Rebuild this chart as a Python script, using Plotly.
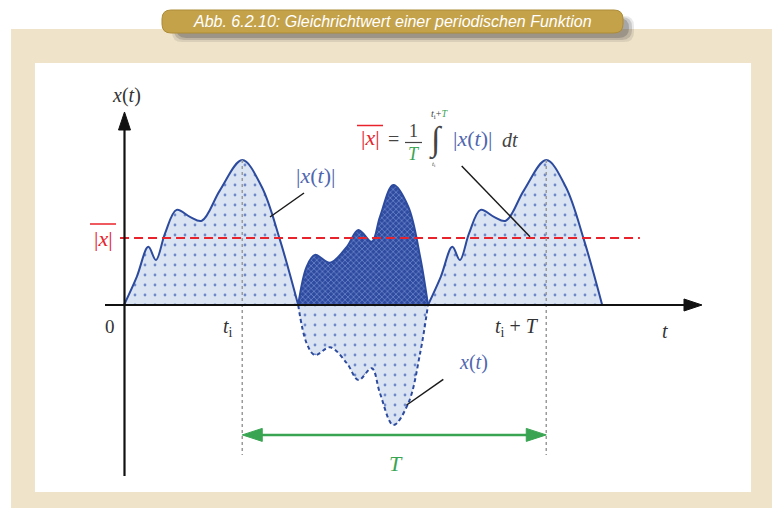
import plotly.graph_objects as go

W, H = 772, 508

# ---- signal data: one period of x(t), spline knots (t, x) ----
T = 10.0
t_pos = [0.0, 0.42, 0.80, 1.05, 1.35, 1.73, 2.17, 2.56, 3.16, 3.89, 4.53, 5.13, 5.73]
x_pos = [0.0, 0.94, 1.94, 1.50, 2.39, 3.17, 2.94, 2.81, 3.83, 4.83, 3.94, 2.17, 0.0]
t_neg = [5.73, 6.01, 6.28, 6.78, 7.33, 7.71, 8.15, 8.42, 8.86, 9.35, 9.74, 10.0]
x_neg = [0.0, -1.28, -1.67, -1.41, -1.94, -2.50, -2.11, -2.94, -4.00, -3.28, -1.61, 0.0]

x_rect_mean = 2.23          # rectified mean |x|
t_i = 3.89                  # start of the integration interval
mean_line_t = [-0.13, 16.97]
arrow_level = -4.33         # height of the T dimension arrow
guide_bottom = -5.0         # lower end of the dotted guides

# ---- geometry of the drawing (pixel <-> data) ----
T0_PX, Y0_PX = 124.0, 305.0
PX_PER_T, PX_PER_X = 30.4, 30.0

def dt(px):
    return (px - T0_PX) / PX_PER_T

def dx(py):
    return (Y0_PX - py) / PX_PER_X

def pxp(x):
    return x / W

def pyp(y):
    return 1 - y / H

SERIF = "Liberation Serif"
SANS = "Liberation Sans"
INK = "#333333"
BLUE = "#2d4b9e"
LBLUE = "#4f66b0"
RED = "#e8232b"
GREEN = "#39a552"

light_pattern = dict(shape=".", bgcolor="#dbe4f3", fgcolor="#6f88c8",
                     size=10, solidity=0.06, fillmode="replace")
dark_pattern = dict(shape="x", bgcolor="#2f4b9f", fgcolor="#6c86cc",
                    size=4, solidity=0.35, fillmode="replace")

fig = go.Figure()

def lobe(ts, xs, pattern, dash="solid"):
    fig.add_trace(go.Scatter(
        x=ts, y=xs, mode="lines", fill="tozeroy",
        fillpattern=pattern,
        line=dict(color=BLUE, width=2, shape="spline", smoothing=1.0, dash=dash),
        hoverinfo="skip", showlegend=False))

# |x(t)| over the first positive half, the negative half (dashed x(t)),
# its rectified copy, and the next period
lobe(t_pos, x_pos, light_pattern)
lobe(t_neg, x_neg, light_pattern, dash="4px,3px")
lobe(t_neg, [abs(v) for v in x_neg], dark_pattern)
lobe([t + T for t in t_pos], x_pos, light_pattern)

# rectified mean value
fig.add_trace(go.Scatter(
    x=mean_line_t, y=[x_rect_mean, x_rect_mean], mode="lines",
    line=dict(color=RED, width=2, dash="9px,5px"),
    hoverinfo="skip", showlegend=False))

shapes = []

def rrect_path(x0, y0, x1, y1, r):
    pts = [("M", x0 + r, y0), ("L", x1 - r, y0), ("Q", x1, y0, x1, y0 + r),
           ("L", x1, y1 - r), ("Q", x1, y1, x1 - r, y1), ("L", x0 + r, y1),
           ("Q", x0, y1, x0, y1 - r), ("L", x0, y0 + r), ("Q", x0, y0, x0 + r, y0)]
    out = []
    for p in pts:
        cmd, vals = p[0], p[1:]
        coords = []
        for i in range(0, len(vals), 2):
            coords.append(f"{pxp(vals[i]):.5f},{pyp(vals[i+1]):.5f}")
        out.append(cmd + " " + " ".join(coords))
    return " ".join(out) + " Z"

def poly_path(points):
    return "M " + " L ".join(f"{pxp(a):.5f},{pyp(b):.5f}" for a, b in points) + " Z"

# frame: beige panel and white drawing area
shapes.append(dict(type="rect", xref="paper", yref="paper", layer="below",
                   x0=pxp(11), x1=pxp(780), y0=pyp(29), y1=pyp(520),
                   fillcolor="#efe3c9", line=dict(width=0)))
shapes.append(dict(type="rect", xref="paper", yref="paper", layer="below",
                   x0=pxp(35), x1=pxp(751), y0=pyp(63), y1=pyp(492),
                   fillcolor="#ffffff", line=dict(width=0)))

# caption banner with soft shadow
for (a, b, c, d, op) in [(172, 16, 634, 42, 0.10), (174, 17, 632, 40, 0.16),
                         (176, 18, 629, 38, 0.22)]:
    shapes.append(dict(type="path", xref="paper", yref="paper", layer="above",
                       path=rrect_path(a, b, c, d, 10),
                       fillcolor=f"rgba(40,40,40,{op})", line=dict(width=0)))
shapes.append(dict(type="path", xref="paper", yref="paper", layer="above",
                   path=rrect_path(162, 10, 623, 33, 9),
                   fillcolor="#c4a24a", line=dict(color="#ad8c36", width=1)))

# dotted guides at t_i and t_i + T
for tg in (t_i, t_i + T):
    shapes.append(dict(type="line", xref="x", yref="y", x0=tg, x1=tg,
                       y0=max(x_pos), y1=guide_bottom,
                       line=dict(color="#9a9a9a", width=1.5, dash="dot")))

# axes
shapes.append(dict(type="line", xref="paper", yref="paper",
                   x0=pxp(105), x1=pxp(690), y0=pyp(305), y1=pyp(305),
                   line=dict(color="#111111", width=2.2)))
shapes.append(dict(type="path", xref="paper", yref="paper",
                   path=poly_path([(684, 299), (702, 305), (684, 311)]),
                   fillcolor="#111111", line=dict(color="#111111", width=1)))
shapes.append(dict(type="line", xref="paper", yref="paper",
                   x0=pxp(124.5), x1=pxp(124.5), y0=pyp(476), y1=pyp(125),
                   line=dict(color="#111111", width=2.2)))
shapes.append(dict(type="path", xref="paper", yref="paper",
                   path=poly_path([(118.5, 130), (124.5, 112), (130.5, 130)]),
                   fillcolor="#111111", line=dict(color="#111111", width=1)))

# T dimension arrow
head_t = 20 / PX_PER_T
head_x = 6.5 / PX_PER_X
shapes.append(dict(type="line", xref="x", yref="y",
                   x0=t_i + head_t * 0.8, x1=t_i + T - head_t * 0.8,
                   y0=arrow_level, y1=arrow_level,
                   line=dict(color=GREEN, width=2.5)))
for tip, sgn in ((t_i, 1), (t_i + T, -1)):
    shapes.append(dict(type="path", xref="x", yref="y",
                       path=(f"M {tip},{arrow_level} L {tip + sgn*head_t},{arrow_level + head_x} "
                             f"L {tip + sgn*head_t},{arrow_level - head_x} Z"),
                       fillcolor=GREEN, line=dict(color=GREEN, width=1)))

# leader lines
for (a, b, c, d) in [(270, 217, 304, 193), (461.7, 166, 530, 236.7), (406.7, 405, 443.3, 379.3)]:
    shapes.append(dict(type="line", xref="paper", yref="paper",
                       x0=pxp(a), y0=pyp(b), x1=pxp(c), y1=pyp(d),
                       line=dict(color="#1a1a1a", width=1.5)))

# overlines of the mean symbol and fraction bar
for (a, b, y, col, w) in [(90, 116, 224, RED, 1.5), (357, 383, 125.5, RED, 1.5),
                          (405, 422, 142.5, "#444444", 1.2)]:
    shapes.append(dict(type="line", xref="paper", yref="paper",
                       x0=pxp(a), x1=pxp(b), y0=pyp(y), y1=pyp(y),
                       line=dict(color=col, width=w)))

anns = []

def label(x, y, text, size, color=INK, family=SERIF):
    anns.append(dict(x=pxp(x), y=pyp(y), xref="paper", yref="paper", text=text,
                     showarrow=False, xanchor="center", yanchor="middle",
                     font=dict(family=family, size=size, color=color)))

label(392, 21, "<i>Abb. 6.2.10: Gleichrichtwert einer periodischen Funktion</i>",
      16, "#ffffff", SANS)

label(126, 95, "<i>x</i>(<i>t</i>)", 20)
label(110, 326, "0", 19)
label(228, 327, "<i>t</i><sub>i</sub>", 20)
label(517, 327, "<i>t</i><sub>i</sub> + <i>T</i>", 20)
label(665, 331, "<i>t</i>", 20)
label(103, 238, "|<i>x</i>|", 22, RED)
label(315, 175, "|<i>x</i>(<i>t</i>)|", 22, LBLUE)
label(474, 362, "<i>x</i>(<i>t</i>)", 20, LBLUE)
label(396, 463, "<i>T</i>", 22, GREEN)

# formula for the rectified mean
label(370, 138, "|<i>x</i>|", 22, RED)
label(393, 139, "=", 20, "#444444")
label(413, 131, "1", 18, "#444444")
label(414, 154, "<i>T</i>", 18, GREEN)
label(436, 140, "∫", 34, "#444444")
label(439, 114, "<i>t</i><sub>i</sub>+<span style='color:%s'><i>T</i></span>" % GREEN, 10, "#444444")
label(434, 164, "<i>t</i><sub>i</sub>", 7, "#444444")
label(473, 139, "|<i>x</i>(<i>t</i>)|", 22, LBLUE)
label(510, 140, "<i>dt</i>", 20, "#444444")

fig.update_layout(
    width=W, height=H, margin=dict(l=0, r=0, t=0, b=0),
    paper_bgcolor="#ffffff", plot_bgcolor="rgba(0,0,0,0)",
    xaxis=dict(range=[dt(0), dt(W)], visible=False, fixedrange=True),
    yaxis=dict(range=[dx(H), dx(0)], visible=False, fixedrange=True),
    shapes=shapes, annotations=anns, showlegend=False,
)

fig.write_html("out.html")
